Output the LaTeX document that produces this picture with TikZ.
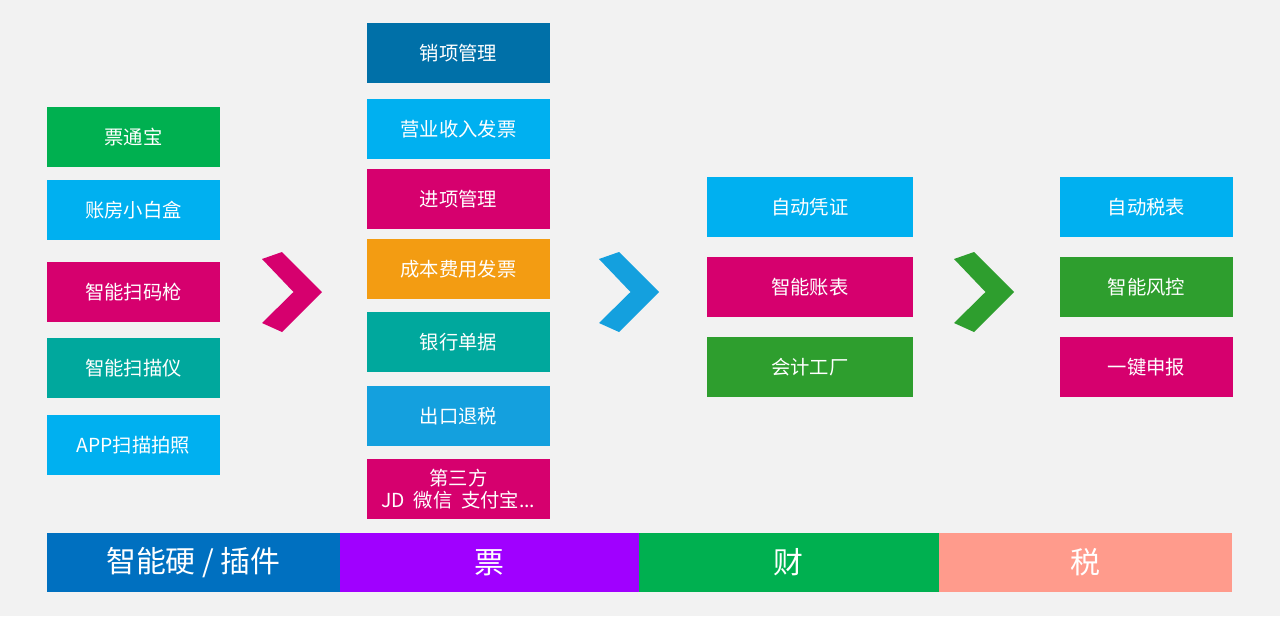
\documentclass[tikz,border=0pt]{standalone}
\usepackage{fontspec}
\newfontfamily\cjk{Noto Sans CJK SC}
\usetikzlibrary{positioning}

\definecolor{pagebg}{RGB}{242,242,242}
\definecolor{skyblue}{RGB}{0,176,240}
\definecolor{rose}{RGB}{214,0,110}
\definecolor{leaf}{RGB}{0,176,80}
\definecolor{teal}{RGB}{0,168,157}
\definecolor{navy}{RGB}{0,112,168}
\definecolor{amber}{RGB}{243,156,18}
\definecolor{ocean}{RGB}{20,160,222}
\definecolor{grass}{RGB}{46,158,46}
\definecolor{barblue}{RGB}{0,112,192}
\definecolor{barpurple}{RGB}{160,0,255}
\definecolor{barsalmon}{RGB}{255,155,140}

\begin{document}
\begin{tikzpicture}[
    x=0.02cm, y=-0.02cm,
    box/.style={rectangle, inner sep=0pt, outer sep=0pt, minimum width=3.46cm, minimum height=1.2cm, text=white, align=center, font=\cjk\fontsize{11}{12.5}\selectfont},
    bar/.style={rectangle, inner sep=0pt, outer sep=0pt, minimum height=1.18cm, text=white, font=\cjk\fontsize{17}{19}\selectfont}
]

% Fondo
\fill[pagebg] (0,0) rectangle (1280,616);

% Columna 1: hardware
\node (ptb) [box, fill=leaf, anchor=north west] at (47,107) {票通宝};
\node (zfx) [box, fill=skyblue, below=0.26cm of ptb] {账房小白盒};
\node (smq) [box, fill=rose, below=0.44cm of zfx] {智能扫码枪};
\node (smy) [box, fill=teal, below=0.32cm of smq] {智能扫描仪};
\node (app) [box, fill=skyblue, below=0.34cm of smy] {APP扫描拍照};

% Columna 2: 票
\node (xx) [box, fill=navy, anchor=north west, minimum width=3.66cm] at (367,23) {销项管理};
\node (yysr) [box, fill=skyblue, minimum width=3.66cm, below=0.32cm of xx] {营业收入发票};
\node (jx) [box, fill=rose, minimum width=3.66cm, below=0.2cm of yysr] {进项管理};
\node (cbfy) [box, fill=amber, minimum width=3.66cm, below=0.2cm of jx] {成本费用发票};
\node (yhdj) [box, fill=teal, minimum width=3.66cm, below=0.26cm of cbfy] {银行单据};
\node (ckts) [box, fill=ocean, minimum width=3.66cm, below=0.28cm of yhdj] {出口退税};
\node (dsf) [box, fill=rose, minimum width=3.66cm, below=0.26cm of ckts] {第三方\\JD\ \ 微信\ \ 支付宝...};

% Columna 3: 财
\node (zdpz) [box, fill=skyblue, anchor=north west, minimum width=4.12cm] at (707,177) {自动凭证};
\node (znzb) [box, fill=rose, minimum width=4.12cm, below=0.4cm of zdpz] {智能账表};
\node (kjgc) [box, fill=grass, minimum width=4.12cm, below=0.4cm of znzb] {会计工厂};

% Columna 4: 税
\node (zdsb) [box, fill=skyblue, anchor=north west] at (1060,177) {自动税表};
\node (znfk) [box, fill=grass, below=0.4cm of zdsb] {智能风控};
\node (yjsb) [box, fill=rose, below=0.4cm of znfk] {一键申报};

% Flechas
\foreach \xs/\col in {262/rose, 599/ocean, 954/grass}
    \fill[\col, shift={(\xs,252)}] (0,7) -- (20,0) -- (60,40) -- (20,80) -- (0,71) -- (31.5,40) -- cycle;

% Barra inferior
\node (hw) [bar, fill=barblue, minimum width=5.86cm, anchor=north west] at (47,533) {智能硬 / 插件};
\node (piao) [bar, fill=barpurple, minimum width=5.98cm, right=0pt of hw] {票};
\node (cai) [bar, fill=leaf, minimum width=6cm, right=0pt of piao] {财};
\node (shui) [bar, fill=barsalmon, minimum width=5.86cm, right=0pt of cai] {税};

\end{tikzpicture}
\end{document}
